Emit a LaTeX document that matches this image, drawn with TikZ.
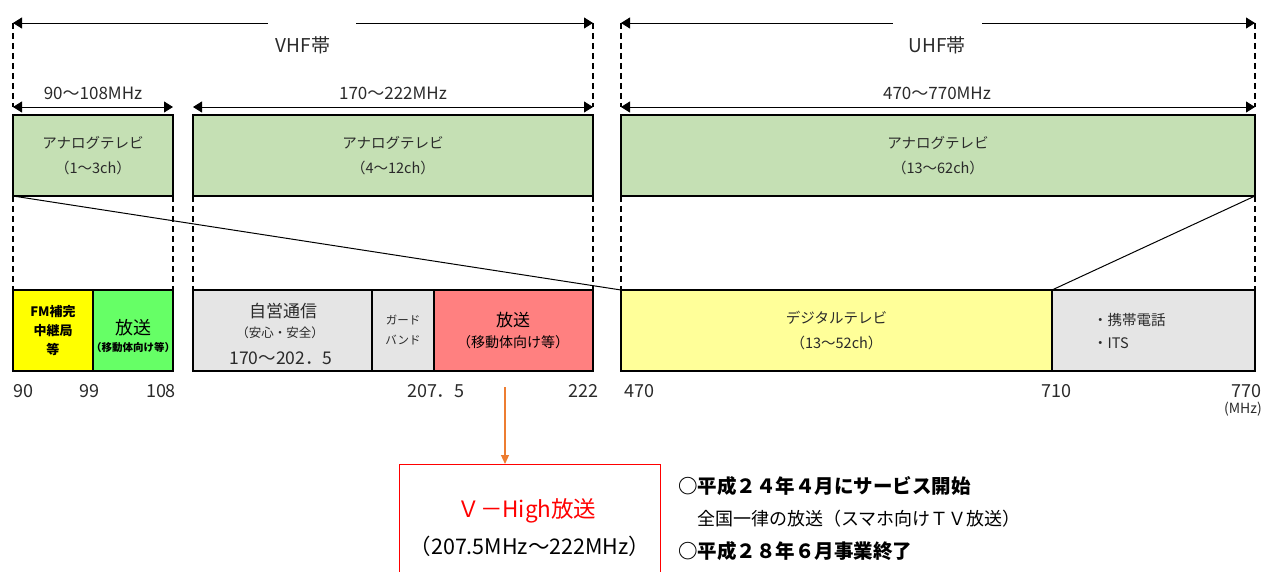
\documentclass[tikz,border=0pt]{standalone}
\usepackage{fontspec}
\setmainfont{Noto Sans CJK JP}
\usetikzlibrary{arrows.meta}
\definecolor{agreen}{HTML}{C5E0B4}
\definecolor{fmyel}{HTML}{FFFF00}
\definecolor{bgreen}{HTML}{66FF66}
\definecolor{lgray}{HTML}{E5E5E5}
\definecolor{salmon}{HTML}{FF8080}
\definecolor{lyel}{HTML}{FFFF99}
\definecolor{orng}{HTML}{ED7D31}
\definecolor{txtgray}{HTML}{2A2A2A}
\tikzset{
  band/.style={draw=black, line width=1.2pt, inner sep=0pt, outer sep=0pt, anchor=north west, align=center},
  dim/.style={draw=black, line width=0.8pt, {Triangle[length=9pt,width=11pt]}-{Triangle[length=9pt,width=11pt]}},
  dimL/.style={draw=black, line width=0.8pt, {Triangle[length=9pt,width=11pt]}-},
  dimR/.style={draw=black, line width=0.8pt, -{Triangle[length=9pt,width=11pt]}},
  dsh/.style={draw=black, line width=1.2pt, dash pattern=on 6pt off 4pt},
  diag/.style={draw=black, line width=1pt},
  lbl/.style={font=\fontsize{17}{19}\selectfont, text=txtgray, inner sep=0pt},
  boxtxt/.style={font=\fontsize{14.5}{25}\selectfont, text=txtgray},
  tick/.style={font=\fontsize{18}{20}\selectfont, text=txtgray, inner sep=0pt},
}
\begin{document}
\begin{tikzpicture}[x=1pt,y=-1pt]
\useasboundingbox (0,0) rectangle (1263,572);
% ---- top-level band arrows
\coordinate (vL) at (13,23); \coordinate (vR) at (593,23);
\coordinate (vgL) at (268,23); \coordinate (vgR) at (356,23);
\coordinate (uL) at (621,23); \coordinate (uR) at (1255,23);
\coordinate (ugL) at (893,23); \coordinate (ugR) at (982,23);
\draw[dimL] (vL) -- (vgL);
\draw[dimR] (vgR) -- (vR);
\draw[dimL] (uL) -- (ugL);
\draw[dimR] (ugR) -- (uR);
\node[font=\fontsize{19}{21}\selectfont, text=txtgray] (vhf) at (303,45) {VHF帯};
\node[font=\fontsize{19}{21}\selectfont, text=txtgray] (uhf) at (937,45) {UHF帯};
% ---- second level arrows
\coordinate (r1L) at (13,107); \coordinate (r1R) at (173,107);
\coordinate (r2L) at (193,107); \coordinate (r2R) at (593,107);
\coordinate (r3L) at (621,107); \coordinate (r3R) at (1255,107);
\draw[dim] (r1L) -- (r1R);
\draw[dim] (r2L) -- (r2R);
\draw[dim] (r3L) -- (r3R);
\node[lbl] (l1) at (93,93) {90〜108MHz};
\node[lbl] (l2) at (393,93) {170〜222MHz};
\node[lbl] (l3) at (937,93) {470〜770MHz};
\draw[dsh] (vL) -- (r1L);
\draw[dsh] (vR) -- (r2R);
\draw[dsh] (uL) -- (r3L);
\draw[dsh] (uR) -- (r3R);
% ---- analog boxes
\node[band, fill=agreen, minimum width=160pt, minimum height=81pt, boxtxt] (a1) at (13,115) {アナログテレビ\\（1〜3ch）};
\node[band, fill=agreen, minimum width=400pt, minimum height=81pt, boxtxt] (a2) at (193,115) {アナログテレビ\\（4〜12ch）};
\node[band, fill=agreen, minimum width=634pt, minimum height=81pt, boxtxt] (a3) at (621,115) {アナログテレビ\\（13〜62ch）};
% ---- lower boxes
\node[band, fill=fmyel, minimum width=80pt, minimum height=81pt, font=\bfseries\fontsize{13}{19}\selectfont] (fm) at (13,290) {FM補完\\中継局\\等};
\node[band, fill=bgreen, minimum width=80pt, minimum height=81pt] (b1) at (93,290) {};
\node[font=\fontsize{18}{20}\selectfont, inner sep=0pt] (b1t) at (133,328) {放送};
\node[font=\bfseries\fontsize{10.5}{12}\selectfont, inner sep=0pt] (b1s) at (133,348) {（移動体向け等）};
\node[band, fill=lgray, minimum width=179pt, minimum height=81pt] (own) at (193,290) {};
\node[font=\fontsize{17}{19}\selectfont, text=txtgray, inner sep=0pt] (own1) at (283,311) {自営通信};
\node[font=\fontsize{12.5}{15}\selectfont, text=txtgray, inner sep=0pt] (own2) at (280,333) {（安心・安全）};
\node[font=\fontsize{17.5}{19}\selectfont, text=txtgray, inner sep=0pt] (own3) at (281,358) {170〜202．5};
\node[band, fill=lgray, minimum width=62pt, minimum height=81pt, font=\fontsize{11.5}{20}\selectfont, text=txtgray] (gb) at (372,290) {ガード\\バンド};
\node[band, fill=salmon, minimum width=159pt, minimum height=81pt] (b2) at (434,290) {};
\node[font=\fontsize{17}{19}\selectfont, inner sep=0pt] (b2t) at (513,320) {放送};
\node[font=\fontsize{14}{16}\selectfont, inner sep=0pt] (b2s) at (513,342) {（移動体向け等）};
\node[band, fill=lyel, minimum width=431pt, minimum height=81pt, boxtxt] (dtv) at (621,290) {デジタルテレビ\\（13〜52ch）};
\node[band, fill=lgray, minimum width=203pt, minimum height=81pt] (mob) at (1052,290) {};
\node[font=\fontsize{14.5}{23}\selectfont, text=txtgray, align=left, anchor=west, inner sep=0pt] (mobt) at (1093,331) {・携帯電話\\・ITS};
% ---- dashed links between rows
\draw[dsh] (a1.south west) -- (fm.north west);
\draw[dsh] (a1.south east) -- (b1.north east);
\draw[dsh] (a2.south west) -- (own.north west);
\draw[dsh] (a2.south east) -- (b2.north east);
\draw[dsh] (a3.south west) -- (dtv.north west);
\draw[dsh] (a3.south east) -- (mob.north east);
% ---- diagonals
\draw[diag] (a1.south west) -- (dtv.north west);
\draw[diag] (a3.south east) -- (dtv.north east);
% ---- tick labels
\node[tick] (t90) at (23,391) {90};
\node[tick] (t99) at (89,391) {99};
\node[tick] (t108) at (161,391) {108};
\node[tick] (t207) at (436,391) {207．5};
\node[tick] (t222) at (583,391) {222};
\node[tick] (t470) at (639,391) {470};
\node[tick, anchor=east] (t770) at (1262,391) {770};
\node[tick] (t710) at (1056,391) {710};
\node[font=\fontsize{14}{16}\selectfont, text=txtgray, inner sep=0pt, anchor=east] (mhz) at (1262,409) {(MHz)};
% ---- V-High
\coordinate (oa) at (505,387);
\node[draw=red, line width=1.2pt, minimum width=261pt, minimum height=140pt, anchor=north west, inner sep=0pt] (vh) at (399,464) {};
\draw[orng, line width=1.2pt, -{Triangle[length=9pt,width=8pt]}] (oa) -- (oa |- vh.north);
\node[font=\fontsize{22.5}{24}\selectfont, text=red, inner sep=0pt] (vh1) at (527,511) {Ｖ－High放送};
\node[font=\fontsize{21.5}{23}\selectfont, inner sep=0pt] (vh2) at (530,546) {（207.5MHz〜222MHz）};
% ---- notes
\node[font=\bfseries\fontsize{19.5}{21}\selectfont, anchor=west, inner sep=0pt] (n1) at (678,486) {○平成２４年４月にサービス開始};
\node[font=\fontsize{18}{20}\selectfont, anchor=west, inner sep=0pt] (n2) at (697,519) {全国一律の放送（スマホ向けＴＶ放送）};
\node[font=\bfseries\fontsize{19.5}{21}\selectfont, anchor=west, inner sep=0pt] (n3) at (678,551) {○平成２８年６月事業終了};
\end{tikzpicture}
\end{document}
